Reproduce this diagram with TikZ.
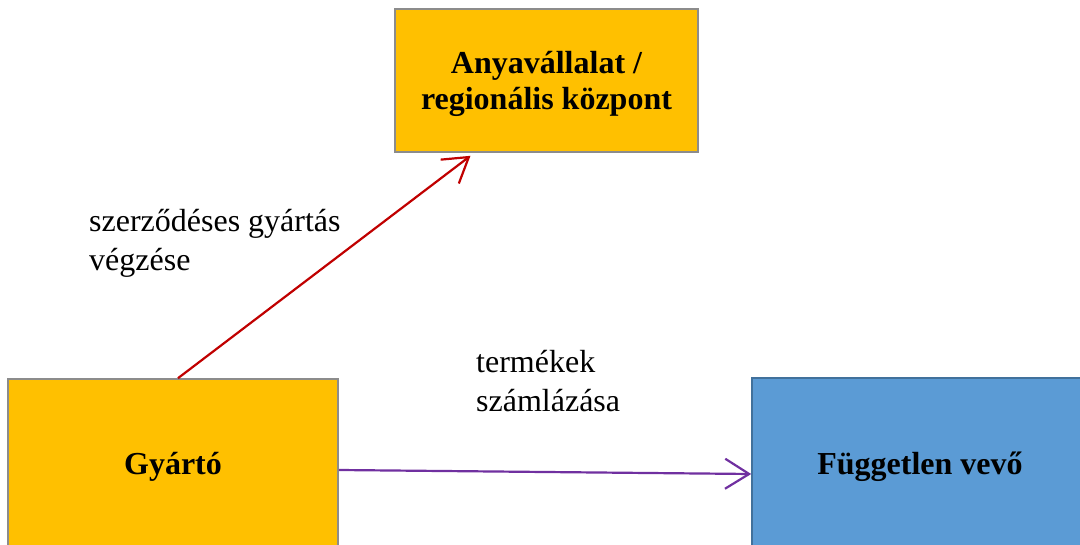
\documentclass[tikz,border=0pt]{standalone}
\usepackage{fontspec}
\setmainfont{Liberation Serif}
\usetikzlibrary{arrows.meta}
\definecolor{boxorange}{HTML}{FFC000}
\definecolor{boxblue}{HTML}{5B9BD5}
\definecolor{blueedge}{HTML}{41719C}
\definecolor{grayedge}{HTML}{8C8C8C}
\definecolor{arrred}{HTML}{C00000}
\definecolor{arrpurple}{HTML}{7030A0}
\newcommand{\lowered}[1]{\raisebox{-4pt}[\height][\depth]{#1}}
\tikzset{
  entity/.style={draw, line width=1.6pt, align=center, inner sep=0pt,
    font=\fontsize{32}{36}\selectfont\bfseries},
  orangebox/.style={entity, fill=boxorange, draw=grayedge},
  bluebox/.style={entity, fill=boxblue, draw=blueedge},
  lbl/.style={align=left, inner sep=0pt, font=\fontsize{32}{39}\selectfont},
  flow/.style={line width=2.2pt, -{Straight Barb[length=24pt,width=30pt,line width=2.2pt]}}
}
\begin{document}
\begin{tikzpicture}[x=1pt,y=-1pt]
\useasboundingbox (0,0) rectangle (1080,545);
\node[orangebox, minimum width=303pt, minimum height=143pt] (an) at (546.5,80.5) {\lowered{\begin{tabular}{@{}c@{}}Anyavállalat /\\regionális központ\end{tabular}}};
\node[orangebox, minimum width=330pt, minimum height=168pt] (gy) at (173,463) {\lowered{Gyártó}};
\node[bluebox, minimum width=336pt, minimum height=169pt] (fv) at (920,462.5) {\lowered{Független vevő}};
\node[lbl, anchor=base west] (l1) at (89,271) {szerződéses gyártás\\végzése};
\node[lbl, anchor=base west] (l2) at (476,412) {termékek\\számlázása};
\draw[flow, arrred] ([xshift=5pt]gy.north) -- ([xshift=-76pt,yshift=-3pt]an.south);
\draw[flow, arrpurple] ([yshift=-7pt]gy.east) -- ([yshift=-11.5pt]fv.west);
\end{tikzpicture}
\end{document}
